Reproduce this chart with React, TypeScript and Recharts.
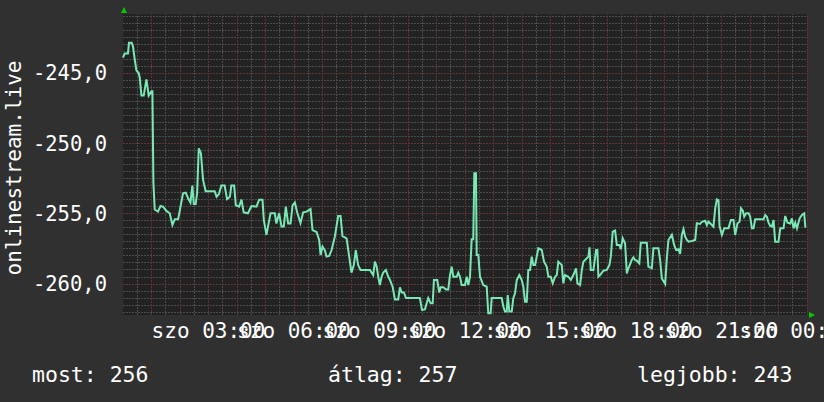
import React from 'react';
import { LineChart, Line, XAxis, YAxis, ReferenceLine, ReferenceArea } from 'recharts';

const minutes = [
  0, 3.6, 10.5, 12.6, 18.3, 21, 24.6, 28.2, 33, 35.2, 38.8, 43.6, 49.3, 54.1, 59.8, 61.9, 64, 66.8, 73.7, 78.8,
  84.3, 91.4, 98.4, 104, 109, 116, 119.5, 126.4, 132, 137, 142, 146, 149, 153, 156, 159.5, 164, 168.6, 174, 193,
  197, 202, 207, 214, 219, 225, 228, 234, 237.5, 244.4, 249.5, 254, 263, 270.5, 281, 286.6, 293.7, 296.5, 302, 307,
  310.6, 319.6, 323, 328.7, 333.7, 338.6, 342.8, 347.7, 352.7, 357, 361.8, 366.6, 373.7, 379.3, 386.4, 394.8, 399, 407.5, 413, 416,
  420, 425, 428.5, 434, 439, 446, 453, 458, 462, 470.7, 476, 481, 486, 490, 495, 500, 515, 519.8, 526.8, 530.3,
  534, 537.3, 540.8, 544.4, 547.8, 553.5, 558.4, 562, 567.6, 572.5, 579.4, 583, 586.6, 591.4, 595.7, 625, 629.4, 635.7, 639.3, 642.6,
  647.7, 652, 654.6, 661.6, 665.8, 668.8, 674.2, 680, 684.8, 688.4, 692, 695.3, 702.5, 705.8, 709.4, 713, 720, 723.5, 727, 730.5,
  734, 737.4, 739.6, 743.1, 744.6, 748, 751.6, 758.5, 765.7, 769, 774, 776.2, 797.3, 800.7, 804.2, 807.8, 810, 813.3, 818.4, 821.7,
  825.3, 829, 834.4, 839.4, 842.8, 846.4, 850, 853.3, 857, 860.5, 863.9, 867.5, 871, 874.4, 881.6, 886.4, 892, 895.5, 900.5, 904.7,
  909.6, 913.2, 916.5, 920, 923.7, 927, 930.6, 937.6, 942.7, 948, 953.8, 956.6, 962.3, 966, 969.2, 979.8, 982, 984.8, 990.3, 996,
  998.7, 1000.8, 1004.4, 1011.4, 1018.5, 1024, 1027, 1031, 1036, 1039.6, 1045, 1048, 1052, 1057, 1060.7, 1064, 1071, 1074.6, 1078, 1081.7,
  1087, 1090, 1102.8, 1106, 1113.3, 1116.7, 1127.2, 1130.8, 1134.4, 1141.4, 1145, 1148.3, 1155.5, 1160.3, 1164.5, 1169.4, 1173, 1176.5, 1180, 1183.5,
  1187.2, 1190.5, 1197.6, 1204.6, 1208, 1215, 1218.7, 1225.6, 1229.2, 1232.6, 1239.7, 1243.1, 1246.7, 1250.3, 1253.7, 1255.8, 1260.8, 1265.7, 1274.7, 1279.8,
  1285.3, 1288.8, 1293.7, 1298, 1301, 1305, 1307.8, 1312, 1317, 1320.4, 1324, 1327.4, 1331, 1348.5, 1352, 1355.6, 1359, 1362.6, 1366, 1369.6,
  1373, 1380, 1383.7, 1390.6, 1394.2, 1399, 1404.8, 1408.3, 1411.7, 1415.3, 1418.8, 1424.4, 1429.4, 1434.2, 1436.4, 1438.5,
];

const values = [
  -243.9, -243.6, -243.6, -242.85, -242.85, -243.1, -244.0, -244.8, -245.0, -245.3, -246.6, -246.6, -245.45, -246.6, -246.3, -246.3, -252.8, -254.7, -254.85, -254.45,
  -254.5, -254.8, -254.97, -255.8, -255.4, -255.4, -254.78, -253.55, -253.5, -253.9, -254.2, -253.0, -254.3, -254.3, -253.55, -250.35, -250.7, -252.6, -253.4, -253.4,
  -253.8, -253.6, -253.0, -253.0, -253.97, -253.8, -253.0, -253.0, -254.4, -254.5, -254.0, -254.9, -254.97, -254.45, -254.5, -254.0, -254.0, -255.45, -256.5, -255.6,
  -254.97, -254.97, -255.7, -254.97, -255.9, -255.9, -254.5, -255.7, -255.7, -254.4, -254.2, -254.9, -255.66, -254.9, -254.85, -254.67, -256.16, -256.3, -256.87, -257.94,
  -257.34, -257.6, -258.05, -258.0, -257.6, -256.63, -255.16, -255.16, -256.6, -256.75, -258.0, -259.19, -258.65, -257.58, -258.65, -259.0, -259.0, -259.0, -259.36, -258.41,
  -258.76, -259.48, -260.07, -259.48, -259.19, -259.0, -259.48, -259.71, -260.19, -261.09, -261.09, -260.23, -260.6, -260.6, -261.0, -261.0, -261.84, -261.8, -261.37, -261.0,
  -261.37, -261.37, -259.71, -259.71, -260.6, -260.23, -260.23, -260.38, -260.38, -259.36, -258.76, -259.48, -259.48, -259.19, -259.48, -260.07, -260.07, -259.48, -260.07, -259.48,
  -256.82, -256.82, -252.13, -252.13, -257.94, -257.94, -259.48, -260.07, -260.19, -262.08, -262.08, -261.0, -261.0, -261.6, -261.96, -261.96, -260.78, -261.96, -261.96, -261.0,
  -260.66, -259.71, -259.36, -259.71, -260.19, -261.25, -261.25, -259.0, -259.0, -258.05, -258.65, -258.65, -258.05, -257.46, -257.58, -258.41, -258.76, -259.48, -259.48, -259.95,
  -259.48, -259.36, -258.41, -258.53, -258.65, -259.95, -259.36, -259.48, -259.71, -259.36, -258.88, -259.95, -260.07, -259.0, -258.41, -258.05, -257.39, -259.0, -259.0, -257.58,
  -257.58, -259.48, -259.36, -259.05, -259.0, -258.65, -258.05, -256.28, -256.2, -257.22, -257.22, -257.53, -256.75, -257.1, -259.24, -258.88, -258.29, -258.1, -258.29, -258.34,
  -258.53, -257.06, -257.06, -258.76, -258.88, -257.46, -257.46, -258.29, -259.6, -259.99, -258.1, -256.87, -256.5, -257.22, -257.58, -257.53, -257.86, -256.5, -256.1, -256.63,
  -256.87, -256.99, -256.94, -256.87, -255.68, -255.73, -255.57, -255.5, -255.8, -255.57, -255.8, -255.92, -254.62, -253.98, -254.03, -255.87, -256.5, -256.04, -256.04, -255.45,
  -255.45, -256.5, -255.68, -255.57, -254.62, -254.79, -255.21, -254.97, -254.97, -255.21, -256.04, -256.04, -255.4, -255.4, -255.09, -255.21, -255.64, -255.87, -255.92, -255.45,
  -256.99, -256.99, -256.04, -256.04, -255.16, -255.64, -255.7, -255.33, -256.04, -255.64, -256.04, -255.33, -255.09, -254.97, -255.92, -255.92,
];

const yTicks = [-260, -255, -250, -245];
const xTicks = [180, 360, 540, 720, 900, 1080, 1260, 1440];
const xTickLabels = ['szo 03:00', 'szo 06:00', 'szo 09:00', 'szo 12:00', 'szo 15:00', 'szo 18:00', 'szo 21:00', 'szo 00:00'];
const yTitle = 'onlinestream.live';
const legendItems = ['most: 256', 'átlag: 257', 'legjobb: 243'];

const data = minutes.map((t, i) => ({ t, v: values[i] }));

const Y_MIN = -262.2;
const Y_MAX = -240.8;

// grid positions
const minorH: number[] = [];
for (let k = -524; k <= -482; k++) if (k % 10 !== 0) minorH.push(k / 2);
const majorH = yTicks;
const minorV: number[] = [];
for (let m = 30; m < 1440; m += 60) minorV.push(m);
const majorV: number[] = [];
for (let m = 60; m <= 1440; m += 60) majorV.push(m);

const FONT = '"DejaVu Sans Mono", monospace';
const GRAY = '#4c4c4c';
const RED = '#5e3434';

const XTick = (props: any) => {
  const { x, y, payload, index } = props;
  const i = xTicks.indexOf(payload.value);
  const last = i === xTicks.length - 1;
  return (
    <text x={x} y={y} dy={14} dx={last ? -10.5 : 0} textAnchor="middle" fill="#ffffff" fontFamily={FONT} fontSize={21}>
      {xTickLabels[i >= 0 ? i : index]}
    </text>
  );
};

export default function App() {
  const legendX = [32, 328, 637];
  return (
    <div style={{ position: 'absolute', left: 0, top: 0, width: 824, height: 402, background: '#303030' }}>
      <LineChart width={824} height={402} data={data} margin={{ top: 14, right: 17, left: 0, bottom: 0 }}>
        <XAxis
          dataKey="t"
          type="number"
          domain={[0, 1440]}
          ticks={xTicks}
          height={87}
          axisLine={false}
          tickLine={false}
          tickSize={0}
          tickMargin={9}
          interval={0}
          tick={<XTick />}
        />
        <YAxis
          type="number"
          domain={[Y_MIN, Y_MAX]}
          allowDataOverflow
          ticks={yTicks}
          width={123}
          axisLine={false}
          tickLine={false}
          tickSize={0}
          tickMargin={16}
          interval={0}
          tickFormatter={(v: number) => v.toFixed(1).replace('.', ',')}
          tick={{ fill: '#ffffff', fontFamily: FONT, fontSize: 20.5 }}
        />
        <ReferenceArea x1={0} x2={1440} y1={Y_MIN} y2={Y_MAX} fill="#222222" fillOpacity={1} stroke="none" />
        {minorH.map((v) => (
          <ReferenceLine key={'mh' + v} y={v} stroke={GRAY} strokeDasharray="2 1" strokeWidth={1} shapeRendering="crispEdges" />
        ))}
        {minorV.map((m) => (
          <ReferenceLine key={'mv' + m} x={m} stroke={GRAY} strokeDasharray="2 1" strokeWidth={1} shapeRendering="crispEdges" />
        ))}
        {majorH.map((v) => (
          <ReferenceLine key={'Mh' + v} y={v} stroke={RED} strokeDasharray="2 1" strokeWidth={1} shapeRendering="crispEdges" />
        ))}
        {majorV.map((m) => (
          <ReferenceLine key={'Mv' + m} x={m} stroke={RED} strokeDasharray="2 1" strokeWidth={1} shapeRendering="crispEdges" />
        ))}
        <Line
          type="linear"
          dataKey="v"
          stroke="#7ae8b4"
          strokeWidth={2}
          dot={false}
          isAnimationActive={false}
        />
      </LineChart>
      <svg width={824} height={402} style={{ position: 'absolute', left: 0, top: 0, pointerEvents: 'none' }}>
        <text
          x={21}
          y={168}
          transform="rotate(-90 21 168)"
          textAnchor="middle"
          fill="#ffffff"
          fontFamily={FONT}
          fontSize={21}
        >
          {yTitle}
        </text>
        {legendItems.map((s, i) => (
          <text key={s} x={legendX[i]} y={382} fill="#ffffff" fontFamily={FONT} fontSize={21.5}>
            {s}
          </text>
        ))}
        <polygon points="121,13 127,13 124,7" fill="#00cc00" />
        <polygon points="809,312 809,318 815,315" fill="#00cc00" />
      </svg>
    </div>
  );
}
